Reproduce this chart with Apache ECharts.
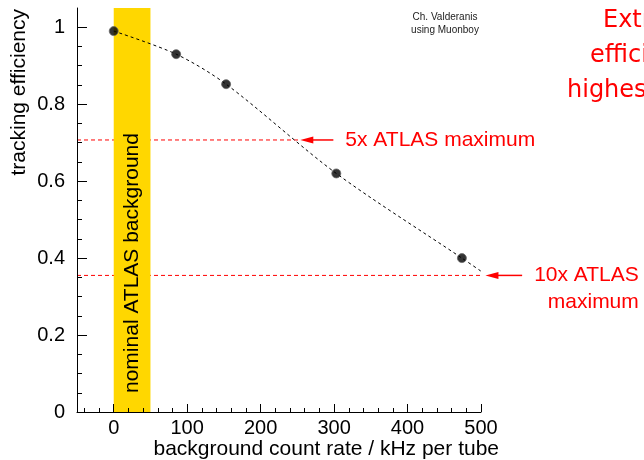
<!DOCTYPE html>
<html>
<head>
<meta charset="utf-8">
<script src="https://cdn.jsdelivr.net/npm/echarts@6/dist/echarts.min.js"></script>
<style>
html, body {margin: 0; padding: 0; background: #fff;}
#chart {width: 644px; height: 460px;}
</style>
</head>
<body>
<div id="chart"></div>
<script>
// measured points (background rate in kHz/tube, tracking efficiency)
const rate = [0, 85, 153, 303, 474];
const efficiency = [0.99, 0.93, 0.852, 0.62, 0.40];
// dashed fit curve, runs a little past the last point
const fitRate = [0, 85, 153, 303, 474, 503];
const fitEff = [0.99, 0.93, 0.852, 0.62, 0.40, 0.362];

// nominal ATLAS background band
const nominalBand = [0, 50];

// background limits: efficiency level, where the fit is crossed, arrow tail
const limitEff = [0.707, 0.355];
const limitCross = [254, 506];
const limitTail = [299, 556];
const limitLabels = [['5x ATLAS maximum'], ['10x ATLAS', 'maximum']];

const xMin = -50, xMax = 500, yMin = 0, yMax = 1.05;
const xLabels = [0, 100, 200, 300, 400, 500];
const xMinorTicks = [-40, -20, 0, 20, 40, 60, 80, 100, 120, 140, 160, 180, 200, 220, 240,
  260, 280, 300, 320, 340, 360, 380, 400, 420, 440, 460, 480, 500];
const yLabels = [0, 0.2, 0.4, 0.6, 0.8, 1];
const yMinorTicks = [0, 0.05, 0.1, 0.15, 0.2, 0.25, 0.3, 0.35, 0.4, 0.45, 0.5, 0.55, 0.6,
  0.65, 0.7, 0.75, 0.8, 0.85, 0.9, 0.95, 1];

const font = '"Liberation Sans", Arial, Helvetica, sans-serif';
const red = '#ff0000';

const measure = document.createElement('canvas').getContext('2d');
function textWidth(s, size) {
  measure.font = size + 'px ' + font;
  return measure.measureText(s).width;
}

function baseAxis(min, max) {
  return {
    type: 'value', min, max, z: 10,
    splitLine: {show: false},
    axisLine: {show: false, onZero: false, lineStyle: {color: '#000', width: 1}},
    axisTick: {inside: true, lineStyle: {color: '#000', width: 1}},
    axisLabel: {show: false}
  };
}

const chart = echarts.init(document.getElementById('chart'), null, {renderer: 'canvas'});

const xMain = baseAxis(xMin, xMax);
xMain.axisLine.show = true;
xMain.axisTick.length = 4;
xMain.axisTick.customValues = xMinorTicks;
xMain.axisLabel = {show: true, customValues: xLabels, margin: 6, fontSize: 20, color: '#000', fontFamily: font};
const xMajor = baseAxis(xMin, xMax);
xMajor.position = 'bottom';
xMajor.axisTick.length = 8;
xMajor.axisTick.customValues = xLabels;

const yMain = baseAxis(yMin, yMax);
yMain.axisLine.show = true;
yMain.axisTick.length = 5;
yMain.axisTick.customValues = yMinorTicks;
yMain.axisLabel = {show: true, customValues: yLabels, margin: 12, fontSize: 20, color: '#000', fontFamily: font};
const yMajor = baseAxis(yMin, yMax);
yMajor.position = 'left';
yMajor.axisTick.length = 10;
yMajor.axisTick.customValues = yLabels;

// dashed red limit lines, from the left axis to the fit curve
const limitLines = limitEff.map((y, i) => ({
  type: 'line',
  z: 1,
  clip: false,
  silent: true,
  showSymbol: false,
  data: [[xMin, y], [limitCross[i], y]],
  lineStyle: {color: red, width: 1, type: [4, 3]}
}));

chart.setOption({
  animation: false,
  backgroundColor: '#fff',
  grid: {left: 77, right: 163, top: 8, bottom: 48, containLabel: false},
  xAxis: [xMain, xMajor],
  yAxis: [yMain, yMajor],
  series: [
    ...limitLines,
    {
      // arrows and labels for the limits
      type: 'custom',
      z: 1,
      clip: false,
      data: limitEff.map((y, i) => [limitCross[i], y, limitTail[i], i]),
      renderItem(params, api) {
        const y = api.value(1);
        const idx = api.value(3);
        const tip = api.coord([api.value(0), y]);
        const tail = api.coord([api.value(2), y]);
        const lines = limitLabels[idx];
        const children = [
          {type: 'line', shape: {x1: tip[0] + 10, y1: tip[1], x2: tail[0], y2: tail[1]},
            style: {stroke: red, lineWidth: 1.5}},
          {type: 'polygon', shape: {points: [[tip[0], tip[1]], [tip[0] + 13, tip[1] - 3.5], [tip[0] + 13, tip[1] + 3.5]]},
            style: {fill: red}}
        ];
        const left = tail[0] + 12;
        const right = left + textWidth(lines[0], 21);
        lines.forEach((s, k) => {
          children.push({
            type: 'text',
            x: k === 0 ? left : right,
            y: tail[1] + k * 27,
            style: {text: s, fill: red, fontSize: 21, fontFamily: font,
              align: k === 0 ? 'left' : 'right', verticalAlign: 'middle'}
          });
        });
        return {type: 'group', children};
      }
    },
    {
      // yellow band for the nominal background
      type: 'custom',
      z: 2,
      clip: false,
      data: [nominalBand],
      renderItem(params, api) {
        const p0 = api.coord([api.value(0), yMax]);
        const p1 = api.coord([api.value(1), yMin]);
        return {
          type: 'group',
          children: [
            {type: 'rect', shape: {x: p0[0], y: p0[1], width: p1[0] - p0[0], height: p1[1] - p0[1]},
              style: {fill: '#ffd700'}},
            {type: 'text', x: (p0[0] + p1[0]) / 2, y: p1[1] - 19, rotation: Math.PI / 2,
              style: {text: 'nominal ATLAS background', fill: '#000', fontSize: 21, fontFamily: font,
                align: 'left', verticalAlign: 'middle'}}
          ]
        };
      }
    },
    {
      type: 'line',
      z: 3,
      clip: false,
      smooth: 0.3,
      showSymbol: false,
      data: fitRate.map((x, i) => [x, fitEff[i]]),
      lineStyle: {color: '#000', width: 1, type: [3, 3]}
    },
    {
      type: 'scatter',
      z: 4,
      symbol: 'circle',
      symbolSize: 9,
      data: rate.map((x, i) => [x, efficiency[i]]),
      itemStyle: {color: '#000', borderColor: '#666', borderWidth: 1}
    }
  ],
  graphic: [
    {type: 'text', x: 19, y: 9, rotation: Math.PI / 2,
      style: {text: 'tracking efficiency', fill: '#000', fontSize: 21, fontFamily: font, align: 'right', verticalAlign: 'middle'}},
    {type: 'text', x: 499, y: 449,
      style: {text: 'background count rate / kHz per tube', fill: '#000', fontSize: 21, fontFamily: font, align: 'right', verticalAlign: 'middle'}},
    {type: 'text', x: 445, y: 17,
      style: {text: 'Ch. Valderanis', fill: '#222', fontSize: 10, fontFamily: font, align: 'center', verticalAlign: 'middle'}},
    {type: 'text', x: 445, y: 30,
      style: {text: 'using Muonboy', fill: '#222', fontSize: 10, fontFamily: font, align: 'center', verticalAlign: 'middle'}},
    {type: 'text', x: 603, y: 21,
      style: {text: 'Extrapolated', fill: red, fontSize: 24, fontFamily: '"DejaVu Sans", sans-serif', align: 'left', verticalAlign: 'middle'}},
    {type: 'text', x: 590, y: 56,
      style: {text: 'efficiency at', fill: red, fontSize: 24, fontFamily: '"DejaVu Sans", sans-serif', align: 'left', verticalAlign: 'middle'}},
    {type: 'text', x: 567, y: 91,
      style: {text: 'highest rates', fill: red, fontSize: 24, fontFamily: '"DejaVu Sans", sans-serif', align: 'left', verticalAlign: 'middle'}}
  ]
});
</script>
</body>
</html>
